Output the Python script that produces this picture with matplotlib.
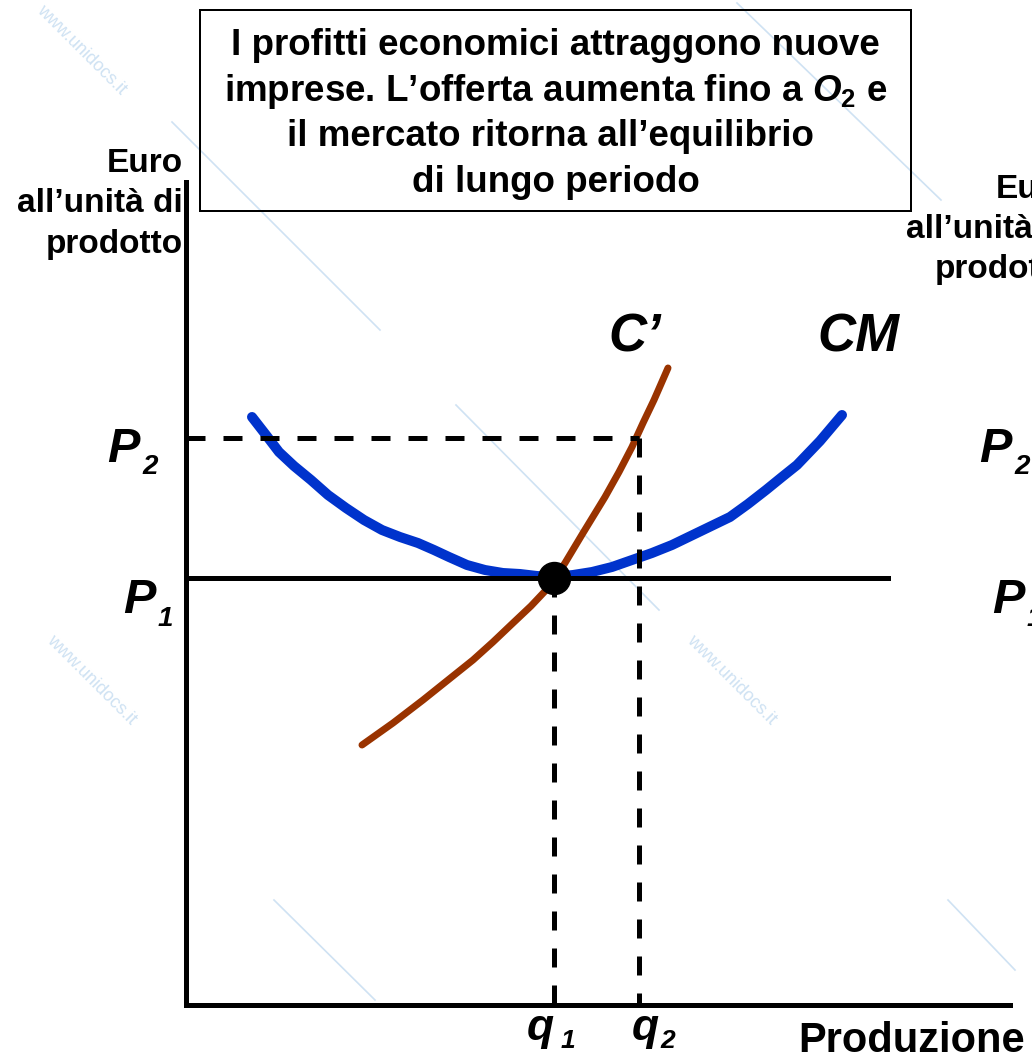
import matplotlib
matplotlib.use("Agg")
import matplotlib.pyplot as plt
from matplotlib.patches import Rectangle

# units: pixels measured from the corner of the axes (right / up)
cm_x = [66, 80, 93, 108, 125, 142, 160, 178, 196, 214, 232, 248, 263, 281, 299, 317, 334,
        351, 368, 387, 406, 426, 446, 466, 486, 515, 544, 562, 580, 596, 611, 634, 656]
cm_y = [588, 570, 553, 539, 525, 510, 497, 485, 475, 468, 462, 455, 448, 440, 435, 432, 431,
        429, 428, 430, 433, 438, 445, 452, 460, 474, 488, 501, 515, 528, 540, 564, 590]

cmarg_x = [176, 207, 237, 262, 287, 307, 327, 345, 362, 379, 397, 419, 433, 446, 457, 468, 482]
cmarg_y = [260, 282, 305, 325, 345, 363, 382, 399, 417, 442, 472, 508, 533, 558, 582, 605, 637]

p1 = 427
p2 = 567
q1 = 368
q2 = 453
x_end = 824
y_end = 823
p1_line_end = 702

box_lines = [
    "I profitti economici attraggono nuove",
    "imprese. L’offerta aumenta fino a $O_2$ e",
    "il mercato ritorna all’equilibrio ",
    "di lungo periodo",
]
y_label = ["Euro", "all’unità di", "prodotto"]

plt.rcParams["font.family"] = ["Liberation Sans", "DejaVu Sans"]
plt.rcParams["mathtext.fontset"] = "custom"
plt.rcParams["mathtext.it"] = "Liberation Sans:italic:bold"
plt.rcParams["mathtext.rm"] = "Liberation Sans:bold"
plt.rcParams["mathtext.bf"] = "Liberation Sans:bold"

fig = plt.figure(figsize=(10.32, 10.62), dpi=100)
ax = fig.add_axes([0, 0, 1, 1])
ax.set_xlim(-186, 846)
ax.set_ylim(-57, 1005)
ax.axis("off")

px = 72 / 100  # points per pixel

# faint watermark
wm = "#cfe2f3"
for x0, y0, x1, y1 in [(-14, 883, 194, 675), (270, 600, 473, 395), (88, 105, 189, 5),
                       (551, 1002, 755, 805), (762, 105, 829, 35)]:
    ax.plot([x0, x1], [y0, y1], color=wm, lw=1.2, zorder=0)
for x, y in [(-105, 955), (-95, 325), (545, 325)]:
    ax.text(x, y, "www.unidocs.it", color=wm, fontsize=13, rotation=-45,
            ha="center", va="center", zorder=0)

# axes
ax.plot([0, 0], [0, y_end], color="black", lw=5 * px, solid_capstyle="projecting", zorder=3)
ax.plot([0, x_end], [0, 0], color="black", lw=5 * px, solid_capstyle="projecting", zorder=3)

# curves
ax.plot(cm_x, cm_y, color="#0033cc", lw=10 * px, solid_capstyle="round",
        solid_joinstyle="round", zorder=2)
ax.plot(cmarg_x, cmarg_y, color="#993300", lw=7 * px, solid_capstyle="round",
        solid_joinstyle="round", zorder=2.5)

# price lines
ax.plot([0, p1_line_end], [p1, p1], color="black", lw=5 * px, zorder=3)
dash = (0, (3.8, 3.6))
ax.plot([0, q2], [p2, p2], color="black", lw=5 * px, ls=dash, zorder=3)
ax.plot([q2, q2], [p2, 0], color="black", lw=5 * px, ls=dash, zorder=3)
ax.plot([q1, q1], [p1, 0], color="black", lw=5 * px, ls=dash, zorder=3)
ax.plot([q1], [p1], "o", color="black", ms=32 * px, zorder=4)

# text box
ax.add_patch(Rectangle((14, 794), 711, 201, fill=False, ec="black", lw=2 * px, zorder=3))
for i, line in enumerate(box_lines):
    ax.text(369.5, 950 - i * 45.7, line, ha="center", va="baseline",
            fontsize=26.5, fontweight="bold")

# y axis labels (left one and cut copy at the right)
for i, line in enumerate(y_label):
    ax.text(-3, 833 - i * 40.5, line, ha="right", va="baseline", fontsize=24, fontweight="bold")
    ax.text(886, 807 - i * 40, line, ha="right", va="baseline", fontsize=24, fontweight="bold")

ital = dict(fontweight="bold", fontstyle="italic", va="baseline", ha="left")


def sub_label(x, y, main, sub, size, sub_size, dx, dy):
    ax.text(x, y, main, fontsize=size, **ital)
    ax.text(x + dx, y + dy, sub, fontsize=sub_size, **ital)


sub_label(-79, 543, "P", "2", 35, 20, 35, -12)
sub_label(-63, 392, "P", "1", 35, 20, 35, -13)
sub_label(793, 543, "P", "2", 35, 20, 35, -12)
sub_label(806, 392, "P", "1", 35, 20, 35, -13)
sub_label(341, -35, "q", "1", 32, 19, 34, -8)
sub_label(446, -35, "q", "2", 32, 19, 28, -8)

ax.text(422, 653, "C’", fontsize=38, **ital)
ax.text(631, 653, "CM", fontsize=38, **ital)
ax.text(612, -47, "Produzione", fontsize=30, fontweight="bold", va="baseline", ha="left")

fig.savefig("out.png", dpi=100, facecolor="white")
